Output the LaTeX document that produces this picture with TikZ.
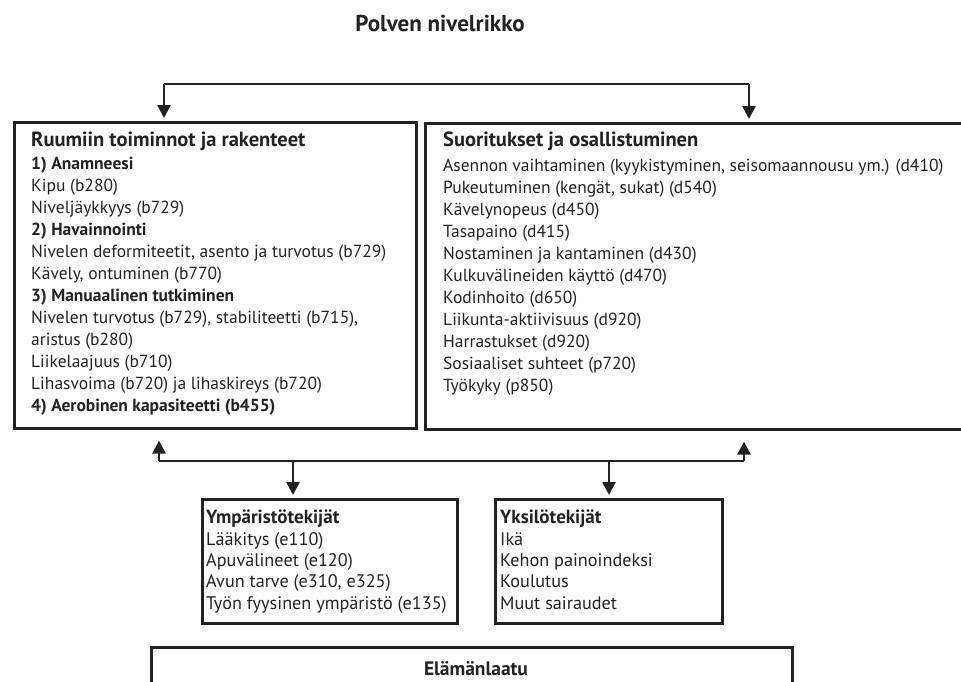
\documentclass[tikz,border=0pt]{standalone}
\usepackage{fontspec}
\setmainfont{PT Sans}
\usetikzlibrary{arrows.meta, positioning, calc}
\definecolor{inkdark}{HTML}{222222}
\tikzset{
  bbox/.style={rectangle, draw=inkdark, line width=2.6pt, anchor=north west, inner sep=0pt},
  btext/.style={anchor=north west, align=left, inner sep=0pt, text=inkdark,
                font=\fontsize{17.5}{22}\selectfont},
  bhead/.style={font=\fontsize{19.5}{22}\selectfont\bfseries},
  arr/.style={-{Triangle[length=13pt, width=13pt]}, line width=2.6pt, draw=inkdark},
  link/.style={line width=2.6pt, draw=inkdark},
}
\newcommand{\hd}[1]{{\fontsize{20.5}{22}\selectfont\bfseries #1}}
\newcommand{\hdsmall}[1]{{\fontsize{19}{22}\selectfont\bfseries #1}}

\begin{document}
\begin{tikzpicture}[x=1pt, y=-1pt]
  \useasboundingbox (0,0) rectangle (961,681);
  \clip (0,0) rectangle (961,681);

  % --- title ---
  \node[font=\fontsize{23}{26}\selectfont\bfseries, text=inkdark] (title) at (440,23) {Polven nivelrikko};

  % --- upper boxes ---
  \node[bbox, minimum width=402pt, minimum height=306pt] (body) at (13,121) {};
  \node[btext] (bodytxt) at (31,132) {\hd{Ruumiin toiminnot ja rakenteet}\\[0.5pt]
    \textbf{1) Anamneesi}\\
    Kipu (b280)\\
    Niveljäykkyys (b729)\\
    \textbf{2) Havainnointi}\\
    Nivelen deformiteetit, asento ja turvotus (b729)\\
    Kävely, ontuminen (b770)\\
    \textbf{3) Manuaalinen tutkiminen}\\
    Nivelen turvotus (b729), stabiliteetti (b715),\\
    aristus (b280)\\
    Liikelaajuus (b710)\\
    Lihasvoima (b720) ja lihaskireys (b720)\\
    \textbf{4) Aerobinen kapasiteetti (b455)}};

  \node[bbox, minimum width=560pt, minimum height=306pt] (part) at (424,122) {};
  \node[btext] (parttxt) at (443,132) {\hd{Suoritukset ja osallistuminen}\\[2.5pt]
    Asennon vaihtaminen (kyykistyminen, seisomaannousu ym.) (d410)\\
    Pukeutuminen (kengät, sukat) (d540)\\
    Kävelynopeus (d450)\\
    Tasapaino (d415)\\
    Nostaminen ja kantaminen (d430)\\
    Kulkuvälineiden käyttö (d470)\\
    Kodinhoito (d650)\\
    Liikunta-aktiivisuus (d920)\\
    Harrastukset (d920)\\
    Sosiaaliset suhteet (p720)\\
    Työkyky (p850)};

  % --- lower boxes ---
  \node[bbox, minimum width=255pt, minimum height=124pt] (env) at (201,498) {};
  \node[btext, font=\fontsize{18.2}{21.3}\selectfont] (envtxt) at (206,510) {\hdsmall{Ympäristötekijät}\\
    Lääkitys (e110)\\
    Apuvälineet (e120)\\
    Avun tarve (e310, e325)\\
    Työn fyysinen ympäristö (e135)};

  \node[bbox, minimum width=227pt, minimum height=124pt] (indiv) at (494,498) {};
  \node[btext, font=\fontsize{18.2}{21.3}\selectfont] (indivtxt) at (500,510) {\hdsmall{Yksilötekijät}\\
    Ikä\\
    Kehon painoindeksi\\
    Koulutus\\
    Muut sairaudet};

  \node[bbox, minimum width=641pt, minimum height=80pt] (qol) at (150,646) {};
  \node[bhead, text=inkdark] (qoltxt) at (476,669) {Elämänlaatu};

  % --- connectors ---
  \coordinate (tl) at (164,84);
  \coordinate (tr) at (749,84);
  \draw[link] (tl) -- (tr);
  \draw[arr, shorten >=3pt] (tl) -- (tl |- body.north);
  \draw[arr, shorten >=3pt] (tr) -- (tr |- part.north);

  \coordinate (bl) at (159,461);
  \coordinate (br) at (744,461);
  \coordinate (be) at (293,461);
  \coordinate (bi) at (609,461);
  \draw[link] (bl) -- (br);
  \draw[arr, shorten >=11pt] (bl) -- (bl |- body.south);
  \draw[arr, shorten >=11pt] (br) -- (br |- part.south);
  \draw[arr, shorten >=3pt] (be) -- (be |- env.north);
  \draw[arr, shorten >=3pt] (bi) -- (bi |- indiv.north);
\end{tikzpicture}
\end{document}
